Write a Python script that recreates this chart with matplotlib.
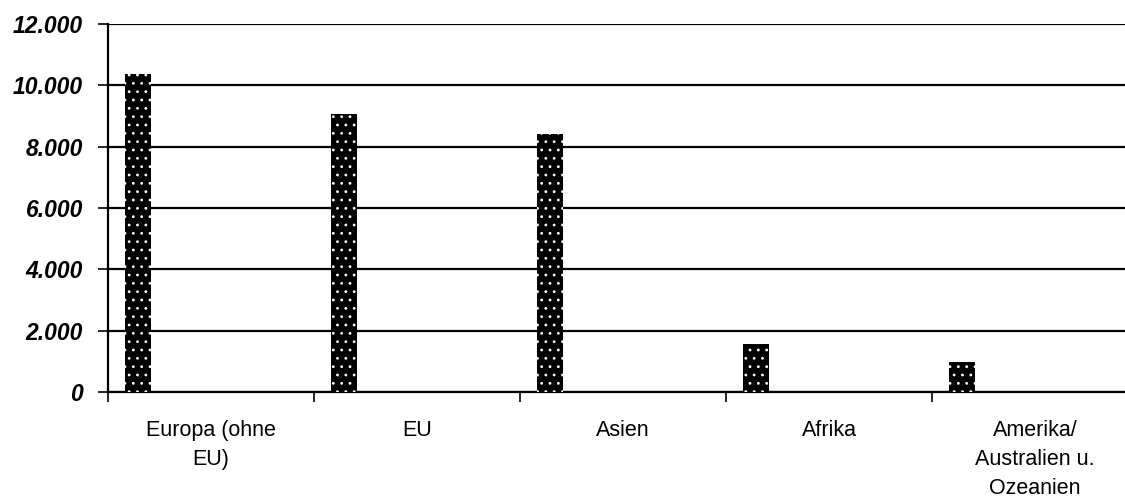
import matplotlib.pyplot as plt
from matplotlib.ticker import FuncFormatter
import numpy as np

categories = ["Europa (ohne\nEU)", "EU", "Asien", "Afrika", "Amerika/\nAustralien u.\nOzeanien"]
values = [10370, 9060, 8410, 1560, 980]
yticks = [0, 2000, 4000, 6000, 8000, 10000, 12000]

plt.rcParams['font.family'] = ['Liberation Sans', 'DejaVu Sans']
plt.rcParams['hatch.linewidth'] = 0.8

fig = plt.figure(figsize=(11.25, 5.04), dpi=100)
# last category is cut off by the image edge in the original
ax = fig.add_axes([108 / 1125, 112 / 504, 1030 / 1125, 368 / 504])

x = np.arange(len(categories))
pos = x - 0.5 + 0.146
ax.bar(pos, values, width=0.126, color='black', zorder=3)
ax.bar(pos, values, width=0.126, color='none', edgecolor='white', linewidth=0,
       hatch='..', zorder=4)

ax.set_xlim(-0.5, len(categories) - 0.5)
ax.set_ylim(0, 12000)
ax.set_yticks(yticks)
ax.yaxis.set_major_formatter(FuncFormatter(lambda v, p: f"{int(v):,}".replace(",", ".")))
for lab in ax.get_yticklabels():
    lab.set_fontweight('bold')
    lab.set_fontstyle('italic')
    lab.set_fontsize(16.5)
ax.grid(axis='y', color='black', linewidth=1.6, zorder=1)
ax.tick_params(axis='y', length=7, width=1.2, pad=11)

ax.set_xticks(x)
ax.set_xticklabels(categories, fontsize=15.5, linespacing=1.5)
ax.set_xticks(np.arange(len(categories)) - 0.5, minor=True)
ax.tick_params(axis='x', which='major', length=0, pad=20)
ax.tick_params(axis='x', which='minor', length=7, width=1.2)

for s in ['top', 'right']:
    ax.spines[s].set_visible(False)
ax.spines['left'].set_linewidth(1.6)
ax.spines['bottom'].set_linewidth(1.6)

fig.savefig("out.png", dpi=100)
